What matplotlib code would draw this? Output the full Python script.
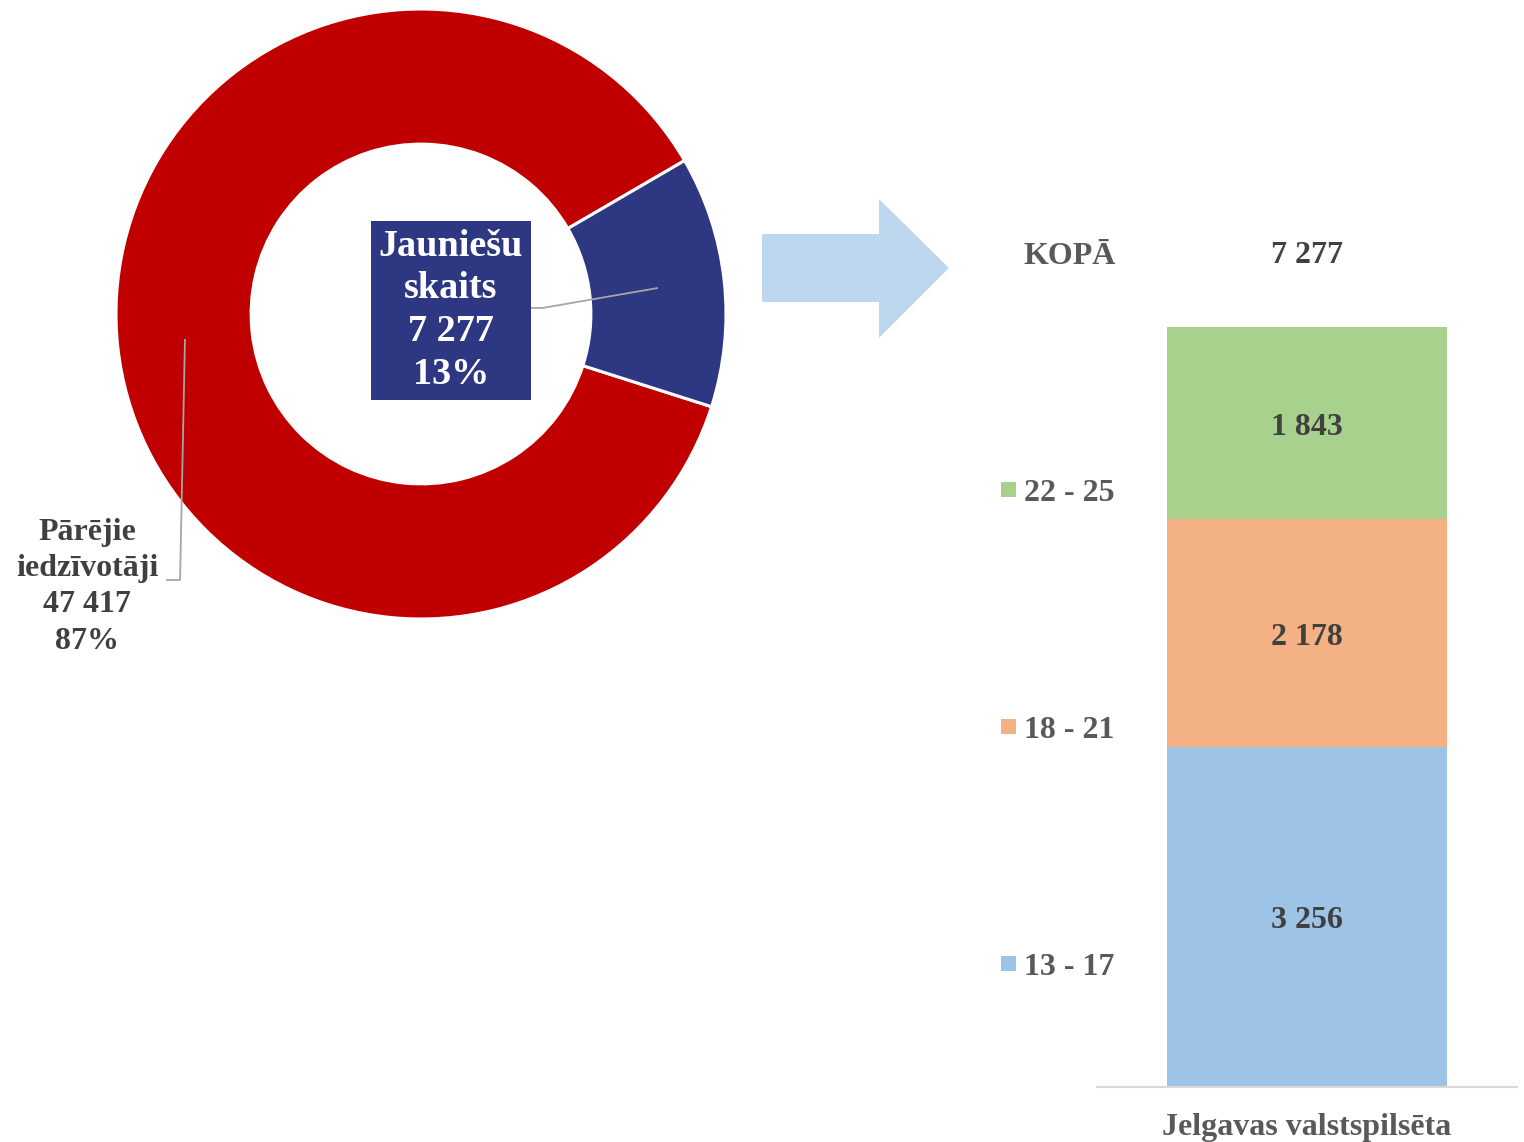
import numpy as np
import matplotlib
matplotlib.use("Agg")
import matplotlib.pyplot as plt
from matplotlib.patches import Polygon

# ---------------- data ----------------
donut_labels = ["Pārējie\niedzīvotāji", "Jauniešu\nskaits"]
donut_values = [47417, 7277]
donut_colors = ["#C00000", "#2E3781"]

category = ["Jelgavas valstspilsēta"]
age_groups = ["13 - 17", "18 - 21", "22 - 25"]
age_values = [3256, 2178, 1843]
age_colors = ["#9DC3E6", "#F4B183", "#A9D18E"]
total_label = "KOPĀ"

def fmt(v):
    return f"{v:,}".replace(",", " ")

FONT = "Liberation Serif"
plt.rcParams["font.family"] = [FONT, "DejaVu Serif"]
plt.rcParams["font.weight"] = "bold"
FS = 23

W, H = 1524, 1142
fig = plt.figure(figsize=(W / 100, H / 100), dpi=100)

# ---------------- overlay (arrow + legend) ----------------
ov = fig.add_axes([0, 0, 1, 1])
ov.set_xlim(0, W)
ov.set_ylim(H, 0)
ov.axis("off")
arrow = Polygon([(762, 234), (879, 234), (879, 199), (949, 268), (879, 338), (879, 302), (762, 302)],
                closed=True, facecolor="#BDD7EE", edgecolor="none")
ov.add_patch(arrow)

legend_items = [(total_label, None)] + [(g, c) for g, c in zip(age_groups[::-1], age_colors[::-1])]
for i, (lab, col) in enumerate(legend_items):
    y = 252 + i * 237.3
    if col is not None:
        ov.add_patch(plt.Rectangle((1001, y - 7.5), 15, 15, facecolor=col, edgecolor="none"))
    ov.text(1024, y + 4, lab, ha="left", va="center", fontsize=FS, color="#595959")

# ---------------- donut ----------------
cx, cy, R = 421, 314, 305
size = 2.1 * R
ax1 = fig.add_axes([(cx - size / 2) / W, (H - cy - size / 2) / H, size / W, size / H])
ax1.patch.set_alpha(0)
inner = 0.557
wedges, _ = ax1.pie(donut_values, colors=donut_colors, startangle=30.2, counterclock=True,
                    radius=1.0, wedgeprops=dict(width=1 - inner, edgecolor="white", linewidth=2.2))
ax1.set_xlim(-1.05, 1.05)
ax1.set_ylim(-1.05, 1.05)
ax1.set_aspect("equal")
ax1.axis("off")
total = sum(donut_values)
rmid = (1 + inner) / 2
mids = []
for w in wedges:
    a = np.deg2rad((w.theta1 + w.theta2) / 2)
    mids.append((rmid * np.cos(a), rmid * np.sin(a)))

# label for youth (blue) slice
v = donut_values[1]
ax1.plot([mids[1][0], 0.400, 0.357], [mids[1][1], 0.020, 0.020], color="#A6A6A6", lw=1.3, zorder=3)
ax1.text(0.098, 0.012, f"{donut_labels[1]}\n{fmt(v)}\n{round(v / total * 100)}%",
         ha="center", va="center", color="white", fontsize=27.5, linespacing=1.29,
         bbox=dict(boxstyle="square,pad=0.2", facecolor=donut_colors[1], edgecolor="none"),
         zorder=4)

# label for other residents (red slice)
v = donut_values[0]
ax1.plot([mids[0][0], -0.790, -0.833], [mids[0][1], -0.872, -0.872], color="#A6A6A6", lw=1.3, zorder=3)
ax1.text(-1.095, -0.895, f"{donut_labels[0]}\n{fmt(v)}\n{round(v / total * 100)}%",
         ha="center", va="center", color="#404040", fontsize=FS, linespacing=1.32)

# ---------------- stacked bar ----------------
px_per_unit = 760 / sum(age_values)
ax_top, ax_bot = 200, 1087
ax2 = fig.add_axes([1097 / W, (H - ax_bot) / H, 420 / W, (ax_bot - ax_top) / H])
ax2.patch.set_alpha(0)
ax2.set_xlim(-0.5, 0.5)
ax2.set_ylim(0, (ax_bot - ax_top) / px_per_unit)
bottom = 0
for g, val, c in zip(age_groups, age_values, age_colors):
    ax2.bar([0], [val], bottom=bottom, width=0.669, color=c, edgecolor="none")
    ax2.annotate(fmt(val), xy=(0, bottom + val / 2), xytext=(0, -4), textcoords="offset pixels",
                 ha="center", va="center", fontsize=FS, color="#404040")
    bottom += val
ax2.annotate(fmt(sum(age_values)), xy=(0, bottom), xytext=(0, 71), textcoords="offset pixels",
             ha="center", va="center", fontsize=FS, color="#404040")
for s in ["top", "left", "right"]:
    ax2.spines[s].set_visible(False)
ax2.spines["bottom"].set_color("#D9D9D9")
ax2.spines["bottom"].set_linewidth(1.5)
ax2.set_yticks([])
ax2.set_xticks([0])
ax2.set_xticklabels(category, fontsize=FS, color="#595959", fontweight="bold")
ax2.tick_params(axis="x", length=0, pad=19)

fig.savefig("out.png", dpi=100)
